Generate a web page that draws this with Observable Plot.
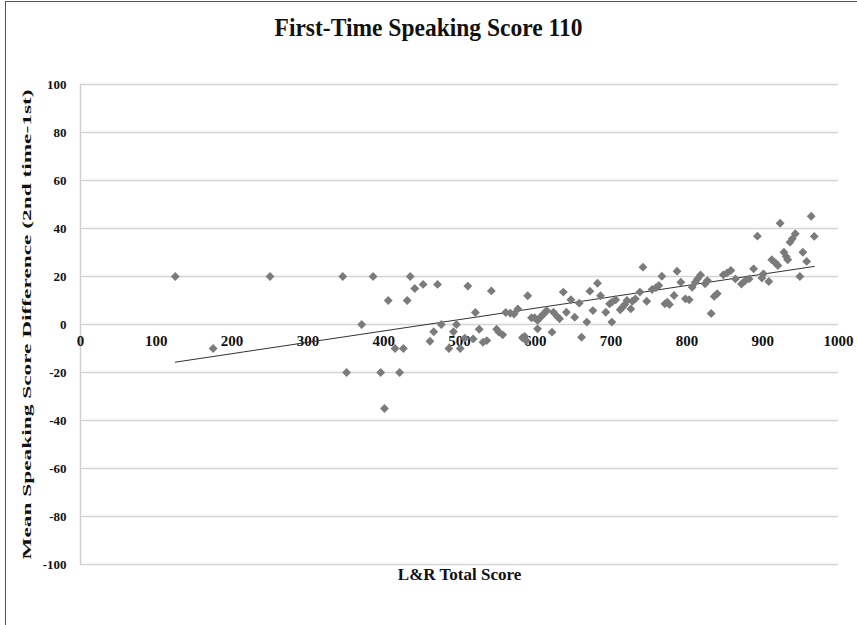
<!DOCTYPE html>
<html>
<head>
<meta charset="utf-8">
<script src="https://cdn.jsdelivr.net/npm/d3@7"></script>
<script src="https://cdn.jsdelivr.net/npm/@observablehq/plot@0.6"></script>
<style>
  html, body { margin: 0; padding: 0; background: #fff; }
  #wrap { position: relative; width: 857px; height: 625px; overflow: hidden; }
  #frame { position: absolute; left: 5px; top: 1px; width: 900px; height: 700px;
           border-left: 1px solid #555; border-top: 1px solid #555; pointer-events: none; }
  #title { height: 56px; line-height: 56px; text-align: center; font-family: "Liberation Serif", serif;
           font-weight: bold; font-size: 23.5px; color: #111; transform: scaleY(1.05); }
  svg { display: block; }
</style>
</head>
<body>
<div id="wrap">
  <div id="frame"></div>
  <div id="title"></div>
  <div id="chart"></div>
</div>
<script>
const chartTitle = "First-Time Speaking Score 110";
const xLabel = "L&R Total Score";
const yLabel = "Mean Speaking Score Difference (2nd time-1st)";
const xTicks = [0, 100, 200, 300, 400, 500, 600, 700, 800, 900, 1000];
const yTicks = [-100, -80, -60, -40, -20, 0, 20, 40, 60, 80, 100];

const scoreLR = [125, 175, 250, 346, 351, 371, 386, 396, 401, 406, 415, 421, 426, 431, 435, 441, 452, 461, 466, 471,
  476, 486, 492, 496, 501, 507, 511, 518, 521, 526, 531, 536, 542, 549, 552, 557, 561, 567, 572, 577,
  583, 586, 588, 590, 595, 599, 603, 603, 606, 609, 612, 615, 622, 624, 629, 632, 637, 641, 647, 652,
  658, 661, 668, 672, 676, 682, 686, 693, 698, 701, 701, 706, 712, 715, 718, 721, 726, 728, 732, 738,
  742, 747, 754, 759, 763, 767, 771, 774, 777, 783, 787, 792, 798, 803, 807, 811, 814, 818, 824, 827,
  832, 836, 840, 848, 853, 858, 864, 872, 877, 882, 888, 893, 899, 901, 908, 912, 917, 920, 923, 928,
  931, 933, 936, 939, 943, 949, 953, 958, 964, 968];
const speakDiff = [20, -10, 20, 20, -20, 0, 20, -20, -35, 10, -10, -20, -10, 10, 20, 15, 16.7, -7, -3, 16.7,
  0, -10, -3, 0, -10, -5.7, 16, -6, 5, -2, -7.4, -6.7, 14, -2, -3.2, -4.3, 5, 4.7, 4.4, 6.5,
  -5.5, -5, -6.7, 12, 2.8, 2.8, 1.7, -1.8, 2.8, 3.8, 4.7, 5.8, -3.2, 5.1, 3.3, 2.4, 13.5, 5.1, 10.3, 3,
  8.9, -5.3, 1, 13.9, 5.8, 17.2, 12, 5.1, 8.6, 1, 9.3, 10.3, 6.1, 7.2, 8.3, 10, 6.5, 9.7, 10.7, 13.5,
  23.9, 9.7, 14.6, 15.3, 16.3, 20.1, 8.6, 9.3, 8.3, 12.1, 22.2, 17.6, 10.7, 10.3, 15.5, 17.6, 19, 20.6, 17, 18.3,
  4.6, 11.7, 12.8, 20.7, 21.5, 22.5, 19, 16.9, 18.3, 19, 23.2, 36.8, 19.4, 21.1, 17.9, 27, 25.6, 24.6, 42.2, 30.1,
  28.3, 27, 34.3, 35.7, 37.8, 20, 30.1, 26.3, 45.1, 36.7];

const trendLR = [125, 968];
const trendDiff = [-15.7, 24.2];

const points = scoreLR.map((x, i) => ({x, y: speakDiff[i]}));
const trend = trendLR.map((x, i) => ({x, y: trendDiff[i]}));

document.getElementById("title").textContent = chartTitle;

const plot = Plot.plot({
  width: 857,
  height: 569,
  marginTop: 28,
  marginLeft: 80,
  marginRight: 19,
  marginBottom: 61,
  style: { fontFamily: "Liberation Serif, serif", fontWeight: "bold", color: "#111", background: "transparent" },
  x: { domain: [0, 1000], axis: null },
  y: { domain: [-100, 100] },
  marks: [
    Plot.gridY(yTicks, { stroke: "#d4d4d4", strokeOpacity: 1, strokeWidth: 1.5 }),
    Plot.ruleX([0], { stroke: "#cfcfcf", strokeWidth: 1.5 }),
    Plot.axisY(yTicks, {
      tickSize: 0, tickPadding: 14, fontSize: 13, fontWeight: "bold",
      tickFormat: d => String(d),
      label: yLabel, labelAnchor: "center", labelArrow: "none", labelOffset: 59
    }),
    Plot.text(xTicks, { x: d => d, y: 0, dy: 17, text: d => String(d), fontSize: 15, fontWeight: "bold", fill: "#111" }),
    Plot.line(trend, { x: "x", y: "y", stroke: "#333", strokeWidth: 1 }),
    Plot.dot(points, { x: "x", y: "y", symbol: "diamond2", r: 4, fill: "#7b7b7b", stroke: "none" }),
    Plot.text([xLabel], { frameAnchor: "bottom", dy: 15, fontSize: 17, fontWeight: "bold", fill: "#111" })
  ]
});
document.getElementById("chart").appendChild(plot);

const yl = plot.querySelector('g[aria-label="y-axis label"] text');
if (yl) {
  yl.setAttribute("font-size", "13");
  yl.style.fontSize = "13px";
  yl.setAttribute("textLength", "470");
  yl.setAttribute("lengthAdjust", "spacingAndGlyphs");
}
</script>
</body>
</html>
